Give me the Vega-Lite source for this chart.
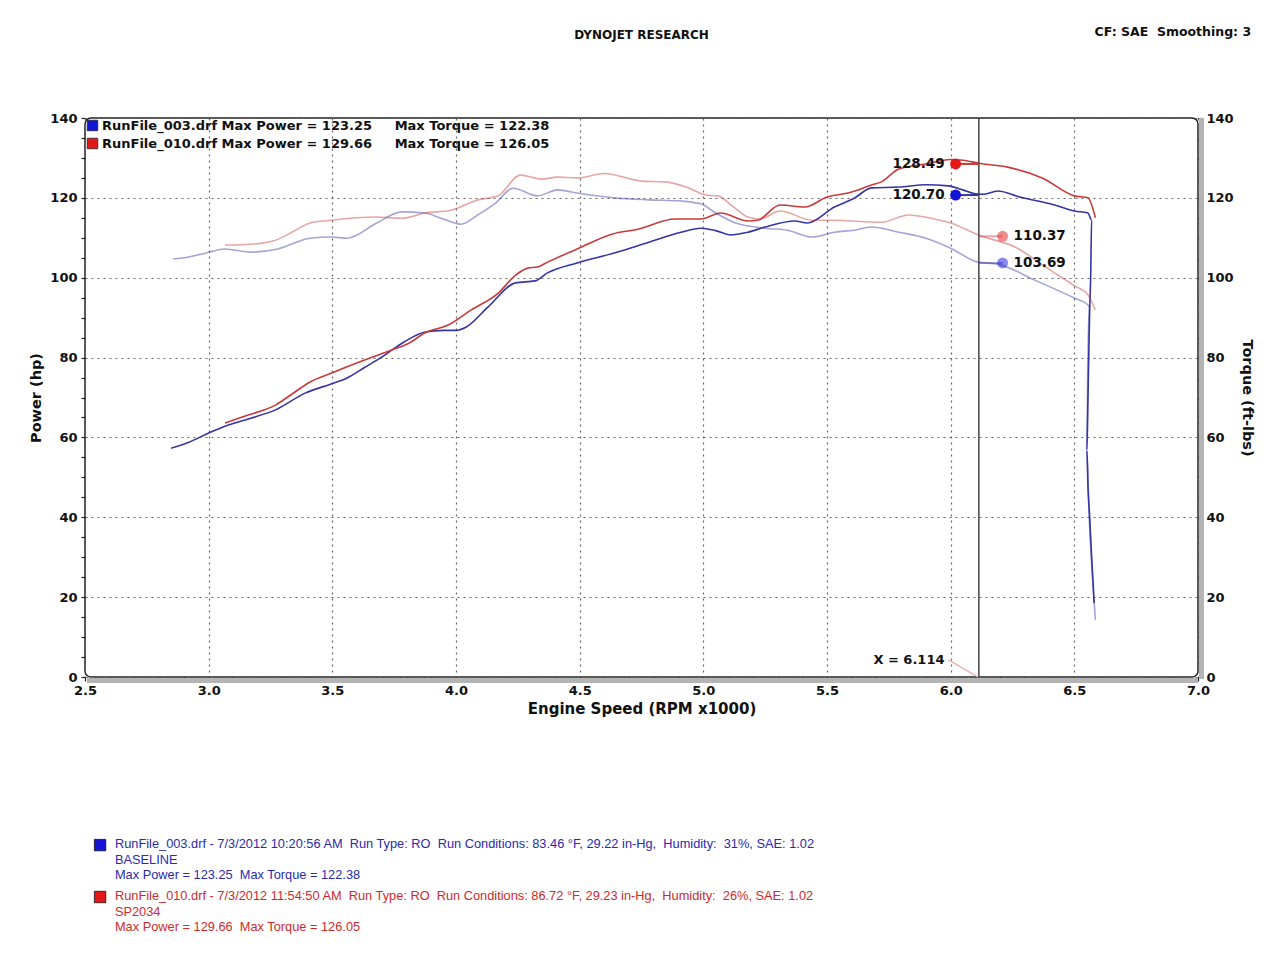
{
  "$schema": "https://vega.github.io/schema/vega-lite/v6.json",
  "background": "white",
  "padding": {"left": 28, "top": 26, "right": 10, "bottom": 10},
  "width": 1113,
  "height": 559,
  "config": {
    "view": {"stroke": "#222", "strokeWidth": 1.5, "cornerRadius": 6},
    "font": "DejaVu Sans"
  },
  "datasets": {
    "lines": [
      {"run":"RunFile_003.drf","m":"Power","rpm":2.848,"v":57.3},
      {"run":"RunFile_003.drf","m":"Power","rpm":2.92,"v":58.8},
      {"run":"RunFile_003.drf","m":"Power","rpm":3.0,"v":61.1},
      {"run":"RunFile_003.drf","m":"Power","rpm":3.08,"v":63.1},
      {"run":"RunFile_003.drf","m":"Power","rpm":3.17,"v":64.8},
      {"run":"RunFile_003.drf","m":"Power","rpm":3.27,"v":66.9},
      {"run":"RunFile_003.drf","m":"Power","rpm":3.39,"v":71.1},
      {"run":"RunFile_003.drf","m":"Power","rpm":3.495,"v":73.4},
      {"run":"RunFile_003.drf","m":"Power","rpm":3.56,"v":74.9},
      {"run":"RunFile_003.drf","m":"Power","rpm":3.63,"v":77.5},
      {"run":"RunFile_003.drf","m":"Power","rpm":3.7,"v":80.1},
      {"run":"RunFile_003.drf","m":"Power","rpm":3.79,"v":83.9},
      {"run":"RunFile_003.drf","m":"Power","rpm":3.875,"v":86.4},
      {"run":"RunFile_003.drf","m":"Power","rpm":3.95,"v":86.8},
      {"run":"RunFile_003.drf","m":"Power","rpm":4.0,"v":86.8},
      {"run":"RunFile_003.drf","m":"Power","rpm":4.04,"v":87.6},
      {"run":"RunFile_003.drf","m":"Power","rpm":4.13,"v":92.7},
      {"run":"RunFile_003.drf","m":"Power","rpm":4.24,"v":98.7},
      {"run":"RunFile_003.drf","m":"Power","rpm":4.32,"v":99.2},
      {"run":"RunFile_003.drf","m":"Power","rpm":4.37,"v":101.2},
      {"run":"RunFile_003.drf","m":"Power","rpm":4.49,"v":103.7},
      {"run":"RunFile_003.drf","m":"Power","rpm":4.64,"v":106.2},
      {"run":"RunFile_003.drf","m":"Power","rpm":4.78,"v":108.9},
      {"run":"RunFile_003.drf","m":"Power","rpm":4.91,"v":111.4},
      {"run":"RunFile_003.drf","m":"Power","rpm":4.99,"v":112.4},
      {"run":"RunFile_003.drf","m":"Power","rpm":5.05,"v":111.8},
      {"run":"RunFile_003.drf","m":"Power","rpm":5.11,"v":110.7},
      {"run":"RunFile_003.drf","m":"Power","rpm":5.18,"v":111.4},
      {"run":"RunFile_003.drf","m":"Power","rpm":5.25,"v":112.7},
      {"run":"RunFile_003.drf","m":"Power","rpm":5.37,"v":114.2},
      {"run":"RunFile_003.drf","m":"Power","rpm":5.42,"v":113.7},
      {"run":"RunFile_003.drf","m":"Power","rpm":5.53,"v":117.7},
      {"run":"RunFile_003.drf","m":"Power","rpm":5.61,"v":119.9},
      {"run":"RunFile_003.drf","m":"Power","rpm":5.68,"v":122.5},
      {"run":"RunFile_003.drf","m":"Power","rpm":5.79,"v":122.7},
      {"run":"RunFile_003.drf","m":"Power","rpm":5.9,"v":123.3},
      {"run":"RunFile_003.drf","m":"Power","rpm":5.99,"v":123.0},
      {"run":"RunFile_003.drf","m":"Power","rpm":6.05,"v":122.0},
      {"run":"RunFile_003.drf","m":"Power","rpm":6.1,"v":121.0},
      {"run":"RunFile_003.drf","m":"Power","rpm":6.13,"v":120.9},
      {"run":"RunFile_003.drf","m":"Power","rpm":6.19,"v":121.7},
      {"run":"RunFile_003.drf","m":"Power","rpm":6.28,"v":120.2},
      {"run":"RunFile_003.drf","m":"Power","rpm":6.42,"v":118.2},
      {"run":"RunFile_003.drf","m":"Power","rpm":6.5,"v":116.7},
      {"run":"RunFile_003.drf","m":"Power","rpm":6.555,"v":116.2},
      {"run":"RunFile_003.drf","m":"Power","rpm":6.57,"v":114.5},
      {"run":"RunFile_003.drf","m":"Power","rpm":6.566,"v":100.0},
      {"run":"RunFile_003.drf","m":"Power","rpm":6.562,"v":91.9},
      {"run":"RunFile_003.drf","m":"Power","rpm":6.555,"v":69.4},
      {"run":"RunFile_003.drf","m":"Power","rpm":6.551,"v":56.8},
      {"run":"RunFile_003.drf","m":"Power","rpm":6.555,"v":48.0},
      {"run":"RunFile_003.drf","m":"Power","rpm":6.562,"v":40.1},
      {"run":"RunFile_003.drf","m":"Power","rpm":6.57,"v":30.0},
      {"run":"RunFile_003.drf","m":"Power","rpm":6.575,"v":24.3},
      {"run":"RunFile_003.drf","m":"Power","rpm":6.58,"v":18.5},

      {"run":"RunFile_010.drf","m":"Power","rpm":3.066,"v":63.6},
      {"run":"RunFile_010.drf","m":"Power","rpm":3.16,"v":65.6},
      {"run":"RunFile_010.drf","m":"Power","rpm":3.27,"v":68.1},
      {"run":"RunFile_010.drf","m":"Power","rpm":3.34,"v":71.0},
      {"run":"RunFile_010.drf","m":"Power","rpm":3.41,"v":73.9},
      {"run":"RunFile_010.drf","m":"Power","rpm":3.495,"v":76.1},
      {"run":"RunFile_010.drf","m":"Power","rpm":3.63,"v":79.4},
      {"run":"RunFile_010.drf","m":"Power","rpm":3.74,"v":81.9},
      {"run":"RunFile_010.drf","m":"Power","rpm":3.81,"v":83.6},
      {"run":"RunFile_010.drf","m":"Power","rpm":3.875,"v":86.2},
      {"run":"RunFile_010.drf","m":"Power","rpm":3.97,"v":88.2},
      {"run":"RunFile_010.drf","m":"Power","rpm":4.06,"v":91.9},
      {"run":"RunFile_010.drf","m":"Power","rpm":4.17,"v":96.1},
      {"run":"RunFile_010.drf","m":"Power","rpm":4.24,"v":100.6},
      {"run":"RunFile_010.drf","m":"Power","rpm":4.29,"v":102.4},
      {"run":"RunFile_010.drf","m":"Power","rpm":4.33,"v":102.7},
      {"run":"RunFile_010.drf","m":"Power","rpm":4.37,"v":103.9},
      {"run":"RunFile_010.drf","m":"Power","rpm":4.49,"v":107.2},
      {"run":"RunFile_010.drf","m":"Power","rpm":4.63,"v":110.9},
      {"run":"RunFile_010.drf","m":"Power","rpm":4.74,"v":112.2},
      {"run":"RunFile_010.drf","m":"Power","rpm":4.885,"v":114.7},
      {"run":"RunFile_010.drf","m":"Power","rpm":4.99,"v":114.7},
      {"run":"RunFile_010.drf","m":"Power","rpm":5.07,"v":116.2},
      {"run":"RunFile_010.drf","m":"Power","rpm":5.18,"v":114.2},
      {"run":"RunFile_010.drf","m":"Power","rpm":5.22,"v":114.4},
      {"run":"RunFile_010.drf","m":"Power","rpm":5.31,"v":118.2},
      {"run":"RunFile_010.drf","m":"Power","rpm":5.41,"v":117.7},
      {"run":"RunFile_010.drf","m":"Power","rpm":5.5,"v":120.2},
      {"run":"RunFile_010.drf","m":"Power","rpm":5.585,"v":121.2},
      {"run":"RunFile_010.drf","m":"Power","rpm":5.68,"v":123.2},
      {"run":"RunFile_010.drf","m":"Power","rpm":5.72,"v":124.0},
      {"run":"RunFile_010.drf","m":"Power","rpm":5.79,"v":127.2},
      {"run":"RunFile_010.drf","m":"Power","rpm":5.9,"v":128.5},
      {"run":"RunFile_010.drf","m":"Power","rpm":6.0,"v":129.6},
      {"run":"RunFile_010.drf","m":"Power","rpm":6.05,"v":129.4},
      {"run":"RunFile_010.drf","m":"Power","rpm":6.12,"v":128.6},
      {"run":"RunFile_010.drf","m":"Power","rpm":6.23,"v":127.7},
      {"run":"RunFile_010.drf","m":"Power","rpm":6.37,"v":125.0},
      {"run":"RunFile_010.drf","m":"Power","rpm":6.5,"v":120.5},
      {"run":"RunFile_010.drf","m":"Power","rpm":6.555,"v":120.0},
      {"run":"RunFile_010.drf","m":"Power","rpm":6.585,"v":115.0},

      {"run":"RunFile_003.drf","m":"Torque","rpm":2.856,"v":104.7},
      {"run":"RunFile_003.drf","m":"Torque","rpm":2.92,"v":105.2},
      {"run":"RunFile_003.drf","m":"Torque","rpm":2.99,"v":106.2},
      {"run":"RunFile_003.drf","m":"Torque","rpm":3.066,"v":107.2},
      {"run":"RunFile_003.drf","m":"Torque","rpm":3.17,"v":106.4},
      {"run":"RunFile_003.drf","m":"Torque","rpm":3.28,"v":107.2},
      {"run":"RunFile_003.drf","m":"Torque","rpm":3.41,"v":109.9},
      {"run":"RunFile_003.drf","m":"Torque","rpm":3.495,"v":110.2},
      {"run":"RunFile_003.drf","m":"Torque","rpm":3.56,"v":109.9},
      {"run":"RunFile_003.drf","m":"Torque","rpm":3.68,"v":113.7},
      {"run":"RunFile_003.drf","m":"Torque","rpm":3.78,"v":116.5},
      {"run":"RunFile_003.drf","m":"Torque","rpm":3.875,"v":116.2},
      {"run":"RunFile_003.drf","m":"Torque","rpm":3.94,"v":114.9},
      {"run":"RunFile_003.drf","m":"Torque","rpm":4.02,"v":113.4},
      {"run":"RunFile_003.drf","m":"Torque","rpm":4.09,"v":115.8},
      {"run":"RunFile_003.drf","m":"Torque","rpm":4.16,"v":118.7},
      {"run":"RunFile_003.drf","m":"Torque","rpm":4.23,"v":122.4},
      {"run":"RunFile_003.drf","m":"Torque","rpm":4.33,"v":120.5},
      {"run":"RunFile_003.drf","m":"Torque","rpm":4.41,"v":122.0},
      {"run":"RunFile_003.drf","m":"Torque","rpm":4.49,"v":121.2},
      {"run":"RunFile_003.drf","m":"Torque","rpm":4.64,"v":120.0},
      {"run":"RunFile_003.drf","m":"Torque","rpm":4.78,"v":119.5},
      {"run":"RunFile_003.drf","m":"Torque","rpm":4.91,"v":119.2},
      {"run":"RunFile_003.drf","m":"Torque","rpm":4.99,"v":118.5},
      {"run":"RunFile_003.drf","m":"Torque","rpm":5.05,"v":116.2},
      {"run":"RunFile_003.drf","m":"Torque","rpm":5.13,"v":113.7},
      {"run":"RunFile_003.drf","m":"Torque","rpm":5.25,"v":112.4},
      {"run":"RunFile_003.drf","m":"Torque","rpm":5.34,"v":111.9},
      {"run":"RunFile_003.drf","m":"Torque","rpm":5.44,"v":110.2},
      {"run":"RunFile_003.drf","m":"Torque","rpm":5.53,"v":111.4},
      {"run":"RunFile_003.drf","m":"Torque","rpm":5.61,"v":111.9},
      {"run":"RunFile_003.drf","m":"Torque","rpm":5.68,"v":112.7},
      {"run":"RunFile_003.drf","m":"Torque","rpm":5.79,"v":111.4},
      {"run":"RunFile_003.drf","m":"Torque","rpm":5.9,"v":109.9},
      {"run":"RunFile_003.drf","m":"Torque","rpm":6.0,"v":107.4},
      {"run":"RunFile_003.drf","m":"Torque","rpm":6.11,"v":103.9},
      {"run":"RunFile_003.drf","m":"Torque","rpm":6.19,"v":103.4},
      {"run":"RunFile_003.drf","m":"Torque","rpm":6.34,"v":99.4},
      {"run":"RunFile_003.drf","m":"Torque","rpm":6.5,"v":94.9},
      {"run":"RunFile_003.drf","m":"Torque","rpm":6.555,"v":93.2},
      {"run":"RunFile_003.drf","m":"Torque","rpm":6.56,"v":92.7},
      {"run":"RunFile_003.drf","m":"Torque","rpm":6.555,"v":80.1},
      {"run":"RunFile_003.drf","m":"Torque","rpm":6.55,"v":56.8},
      {"run":"RunFile_003.drf","m":"Torque","rpm":6.56,"v":40.1},
      {"run":"RunFile_003.drf","m":"Torque","rpm":6.575,"v":23.5},
      {"run":"RunFile_003.drf","m":"Torque","rpm":6.585,"v":14.3},

      {"run":"RunFile_010.drf","m":"Torque","rpm":3.066,"v":108.2},
      {"run":"RunFile_010.drf","m":"Torque","rpm":3.17,"v":108.4},
      {"run":"RunFile_010.drf","m":"Torque","rpm":3.27,"v":109.4},
      {"run":"RunFile_010.drf","m":"Torque","rpm":3.34,"v":111.5},
      {"run":"RunFile_010.drf","m":"Torque","rpm":3.41,"v":113.7},
      {"run":"RunFile_010.drf","m":"Torque","rpm":3.495,"v":114.4},
      {"run":"RunFile_010.drf","m":"Torque","rpm":3.68,"v":115.2},
      {"run":"RunFile_010.drf","m":"Torque","rpm":3.78,"v":114.9},
      {"run":"RunFile_010.drf","m":"Torque","rpm":3.875,"v":116.2},
      {"run":"RunFile_010.drf","m":"Torque","rpm":3.98,"v":116.9},
      {"run":"RunFile_010.drf","m":"Torque","rpm":4.09,"v":119.5},
      {"run":"RunFile_010.drf","m":"Torque","rpm":4.17,"v":120.5},
      {"run":"RunFile_010.drf","m":"Torque","rpm":4.26,"v":125.7},
      {"run":"RunFile_010.drf","m":"Torque","rpm":4.345,"v":124.7},
      {"run":"RunFile_010.drf","m":"Torque","rpm":4.41,"v":125.2},
      {"run":"RunFile_010.drf","m":"Torque","rpm":4.49,"v":125.0},
      {"run":"RunFile_010.drf","m":"Torque","rpm":4.6,"v":126.1},
      {"run":"RunFile_010.drf","m":"Torque","rpm":4.75,"v":124.2},
      {"run":"RunFile_010.drf","m":"Torque","rpm":4.845,"v":124.0},
      {"run":"RunFile_010.drf","m":"Torque","rpm":4.94,"v":122.5},
      {"run":"RunFile_010.drf","m":"Torque","rpm":5.01,"v":120.7},
      {"run":"RunFile_010.drf","m":"Torque","rpm":5.06,"v":120.5},
      {"run":"RunFile_010.drf","m":"Torque","rpm":5.12,"v":117.8},
      {"run":"RunFile_010.drf","m":"Torque","rpm":5.18,"v":115.2},
      {"run":"RunFile_010.drf","m":"Torque","rpm":5.23,"v":114.7},
      {"run":"RunFile_010.drf","m":"Torque","rpm":5.31,"v":116.7},
      {"run":"RunFile_010.drf","m":"Torque","rpm":5.44,"v":114.4},
      {"run":"RunFile_010.drf","m":"Torque","rpm":5.52,"v":114.4},
      {"run":"RunFile_010.drf","m":"Torque","rpm":5.72,"v":113.9},
      {"run":"RunFile_010.drf","m":"Torque","rpm":5.83,"v":115.7},
      {"run":"RunFile_010.drf","m":"Torque","rpm":5.92,"v":114.9},
      {"run":"RunFile_010.drf","m":"Torque","rpm":6.0,"v":113.7},
      {"run":"RunFile_010.drf","m":"Torque","rpm":6.12,"v":110.5},
      {"run":"RunFile_010.drf","m":"Torque","rpm":6.26,"v":107.7},
      {"run":"RunFile_010.drf","m":"Torque","rpm":6.39,"v":102.4},
      {"run":"RunFile_010.drf","m":"Torque","rpm":6.5,"v":98.0},
      {"run":"RunFile_010.drf","m":"Torque","rpm":6.555,"v":95.7},
      {"run":"RunFile_010.drf","m":"Torque","rpm":6.585,"v":91.9}
    ],
    "cursor": [
      {"run":"RunFile_010.drf","file":"SP2034","m":"Power","rpm":6.02,"v":128.49,"label":"128.49","side":"L"},
      {"run":"RunFile_003.drf","file":"BASELINE","m":"Power","rpm":6.02,"v":120.70,"label":"120.70","side":"L"},
      {"run":"RunFile_010.drf","file":"SP2034","m":"Torque","rpm":6.21,"v":110.37,"label":"110.37","side":"R"},
      {"run":"RunFile_003.drf","file":"BASELINE","m":"Torque","rpm":6.21,"v":103.69,"label":"103.69","side":"R"}
    ]
  },
  "layer": [
    {
      "data": {"values": [{}]},
      "mark": {"type": "rule", "color": "#b4b4b4", "strokeWidth": 5, "yOffset": 3.5, "xOffset": 2},
      "encoding": {
        "x": {"datum": 2.5, "type": "quantitative"},
        "x2": {"datum": 7.0},
        "y": {"datum": 0, "type": "quantitative", "axis": null}
      }
    },
    {
      "data": {"values": [{}]},
      "mark": {"type": "rule", "color": "#b4b4b4", "strokeWidth": 5, "xOffset": 3.5, "yOffset": 2},
      "encoding": {
        "x": {"datum": 7.0, "type": "quantitative"},
        "y": {"datum": 0, "type": "quantitative", "axis": null},
        "y2": {"datum": 140}
      }
    },
    {
      "data": {"name": "lines"},
      "mark": {"type": "line", "strokeWidth": 1.6, "interpolate": "monotone"},
      "encoding": {
        "x": {"field": "rpm", "type": "quantitative", "scale": {"domain": [2.5, 7.0], "nice": false, "zero": false},
          "axis": {
            "title": "Engine Speed (RPM x1000)",
            "values": [2.5,2.6,2.7,2.8,2.9,3.0,3.1,3.2,3.3,3.4,3.5,3.6,3.7,3.8,3.9,4.0,4.1,4.2,4.3,4.4,4.5,4.6,4.7,4.8,4.9,5.0,5.1,5.2,5.3,5.4,5.5,5.6,5.7,5.8,5.9,6.0,6.1,6.2,6.3,6.4,6.5,6.6,6.7,6.8,6.9,7.0],
            "tickCount": 200,
            "labelExpr": "round(datum.value*10) % 5 == 0 ? format(datum.value,'.1f') : ''",
            "gridOpacity": {"condition": {"test": "round(datum.value*10) % 5 == 0", "value": 1}, "value": 0},
            "grid": true, "gridDash": [2, 4], "gridColor": "#666", "gridWidth": 1.2,
            "domain": false, "tickSize": 4, "tickColor": "#222", "tickWidth": 1.2,
            "labelPadding": 3, "labelFlush": false, "labelOverlap": false,
            "labelFont": "DejaVu Sans", "labelFontWeight": "bold", "labelFontSize": 13, "labelColor": "#111",
            "titleFont": "DejaVu Sans", "titleFontWeight": "bold", "titleFontSize": 15, "titleColor": "#111", "titlePadding": 4
          }},
        "y": {"field": "v", "type": "quantitative", "scale": {"domain": [0, 140], "nice": false},
          "axis": {
            "title": "Power (hp)", "orient": "left",
            "values": [0,5,10,15,20,25,30,35,40,45,50,55,60,65,70,75,80,85,90,95,100,105,110,115,120,125,130,135,140],
            "tickCount": 200,
            "labelExpr": "datum.value % 20 == 0 ? datum.value : ''",
            "gridOpacity": {"condition": {"test": "datum.value % 20 == 0", "value": 1}, "value": 0},
            "grid": true, "gridDash": [2, 4], "gridColor": "#666", "gridWidth": 1.2,
            "domain": false, "tickSize": 4, "tickColor": "#222", "tickWidth": 1.2,
            "labelPadding": 4, "labelOverlap": false, "labelFlush": false,
            "labelFont": "DejaVu Sans", "labelFontWeight": "bold", "labelFontSize": 13, "labelColor": "#111",
            "titleFont": "DejaVu Sans", "titleFontWeight": "bold", "titleFontSize": 14.5, "titleColor": "#111", "titlePadding": 6
          }},
        "stroke": {"field": "run", "type": "nominal", "scale": {"domain": ["RunFile_003.drf", "RunFile_010.drf"], "range": ["#3535a5", "#c83a3a"]}, "legend": null},
        "strokeOpacity": {"field": "m", "type": "nominal", "scale": {"domain": ["Power", "Torque"], "range": [1, 0.45]}, "legend": null},
        "order": {"value": null}
      }
    },
    {
      "data": {"values": [{}]},
      "mark": {"type": "rule", "color": "#444", "strokeWidth": 1.5},
      "encoding": {
        "x": {"datum": 6.114, "type": "quantitative"},
        "y": {"datum": 0, "type": "quantitative", "axis": null},
        "y2": {"datum": 140}
      }
    },
    {
      "data": {"name": "cursor"},
      "mark": {"type": "rule", "strokeWidth": 2},
      "encoding": {
        "x": {"field": "rpm", "type": "quantitative"},
        "x2": {"datum": 6.114},
        "y": {"field": "v", "type": "quantitative", "axis": null},
        "stroke": {"field": "run", "type": "nominal", "legend": null},
        "strokeOpacity": {"field": "m", "type": "nominal", "legend": null}
      }
    },
    {
      "data": {"name": "cursor"},
      "mark": {"type": "point", "filled": true, "shape": "circle", "size": 120, "strokeWidth": 0, "opacity": 1},
      "encoding": {
        "x": {"field": "rpm", "type": "quantitative"},
        "y": {"field": "v", "type": "quantitative",
          "axis": {
            "title": "Torque (ft-lbs)", "orient": "right",
            "values": [0,5,10,15,20,25,30,35,40,45,50,55,60,65,70,75,80,85,90,95,100,105,110,115,120,125,130,135,140],
            "tickCount": 200,
            "labelExpr": "datum.value % 20 == 0 ? datum.value : ''",
            "grid": false, "domain": false, "tickSize": 4, "tickColor": "#222", "tickWidth": 1.2,
            "labelPadding": 4, "labelOverlap": false, "labelFlush": false,
            "labelFont": "DejaVu Sans", "labelFontWeight": "bold", "labelFontSize": 13, "labelColor": "#111",
            "titleFont": "DejaVu Sans", "titleFontWeight": "bold", "titleFontSize": 14.5, "titleColor": "#111", "titlePadding": 6
          }},
        "fill": {"field": "file", "type": "nominal",
          "scale": {"domain": ["BASELINE", "SP2034"], "range": ["#1414d8", "#e41818"]},
          "legend": {
            "title": null, "orient": "top-left", "offset": 1, "padding": 0,
            "symbolType": "square", "symbolSize": 110, "symbolStrokeColor": "#222", "symbolStrokeWidth": 0.8, "symbolOpacity": 1,
            "labelFont": "DejaVu Sans", "labelFontWeight": "bold", "labelFontSize": 13, "labelColor": "#111",
            "labelOffset": 3, "rowPadding": 3, "labelLimit": 800,
            "labelExpr": "datum.label == 'BASELINE' ? 'RunFile_003.drf Max Power = 123.25\u00a0\u00a0\u00a0\u00a0\u00a0Max Torque = 122.38' : 'RunFile_010.drf Max Power = 129.66\u00a0\u00a0\u00a0\u00a0\u00a0Max Torque = 126.05'"
          }},
        "fillOpacity": {"field": "m", "type": "nominal", "scale": {"domain": ["Power", "Torque"], "range": [1, 0.5]}, "legend": null}
      }
    },
    {
      "data": {"name": "cursor"},
      "transform": [{"filter": "datum.side == 'L'"}],
      "mark": {"type": "text", "align": "right", "baseline": "middle", "dx": -11, "font": "DejaVu Sans", "fontWeight": "bold", "fontSize": 13.5, "color": "#111"},
      "encoding": {
        "x": {"field": "rpm", "type": "quantitative"},
        "y": {"field": "v", "type": "quantitative", "axis": null},
        "text": {"field": "label"}
      }
    },
    {
      "data": {"name": "cursor"},
      "transform": [{"filter": "datum.side == 'R'"}],
      "mark": {"type": "text", "align": "left", "baseline": "middle", "dx": 11, "font": "DejaVu Sans", "fontWeight": "bold", "fontSize": 13.5, "color": "#111"},
      "encoding": {
        "x": {"field": "rpm", "type": "quantitative"},
        "y": {"field": "v", "type": "quantitative", "axis": null},
        "text": {"field": "label"}
      }
    },
    {
      "data": {"values": [{}]},
      "mark": {"type": "rule", "color": "#f0a0a0", "strokeWidth": 1.2},
      "encoding": {
        "x": {"datum": 5.99, "type": "quantitative"},
        "x2": {"datum": 6.11},
        "y": {"datum": 4.3, "type": "quantitative", "axis": null},
        "y2": {"datum": 0}
      }
    },
    {
      "data": {"values": [{}]},
      "mark": {"type": "text", "text": "X = 6.114", "align": "right", "baseline": "middle", "font": "DejaVu Sans", "fontWeight": "bold", "fontSize": 13, "color": "#111"},
      "encoding": {
        "x": {"datum": 5.975, "type": "quantitative"},
        "y": {"datum": 4.3, "type": "quantitative", "axis": null}
      }
    },
    {
      "data": {"values": [{}]},
      "mark": {"type": "text", "text": "DYNOJET RESEARCH", "align": "center", "baseline": "middle", "font": "DejaVu Sans", "fontWeight": "bold", "fontSize": 12, "color": "#111"},
      "encoding": {
        "x": {"datum": 4.75, "type": "quantitative"},
        "y": {"datum": 160.8, "type": "quantitative", "axis": null}
      }
    },
    {
      "data": {"values": [{}]},
      "mark": {"type": "text", "text": "CF: SAE\u00a0 Smoothing: 3", "align": "right", "baseline": "middle", "font": "DejaVu Sans", "fontWeight": "bold", "fontSize": 12.5, "color": "#111"},
      "encoding": {
        "x": {"datum": 7.215, "type": "quantitative"},
        "y": {"datum": 161.5, "type": "quantitative", "axis": null}
      }
    },
    {
      "data": {"values": [{}]},
      "mark": {"type": "point", "shape": "square", "filled": true, "size": 130, "color": "#1414d8", "stroke": "#111", "strokeWidth": 0.8, "opacity": 1},
      "encoding": {
        "x": {"datum": 2.561, "type": "quantitative"},
        "y": {"datum": -42.1, "type": "quantitative", "axis": null}
      }
    },
    {
      "data": {"values": [{}]},
      "mark": {"type": "point", "shape": "square", "filled": true, "size": 130, "color": "#e41818", "stroke": "#111", "strokeWidth": 0.8, "opacity": 1},
      "encoding": {
        "x": {"datum": 2.561, "type": "quantitative"},
        "y": {"datum": -55.1, "type": "quantitative", "axis": null}
      }
    },
    {
      "data": {"values": [{}]},
      "mark": {"type": "text", "align": "left", "baseline": "top", "lineHeight": 15.5, "font": "Liberation Sans", "fontSize": 12.8, "color": "#2a2ab0",
        "text": ["RunFile_003.drf - 7/3/2012 10:20:56 AM \u00a0Run Type: RO \u00a0Run Conditions: 83.46 \u00b0F, 29.22 in-Hg, \u00a0Humidity: \u00a031%, SAE: 1.02", "BASELINE", "Max Power = 123.25 \u00a0Max Torque = 122.38"]},
      "encoding": {
        "x": {"datum": 2.621, "type": "quantitative"},
        "y": {"datum": -40.4, "type": "quantitative", "axis": null}
      }
    },
    {
      "data": {"values": [{}]},
      "mark": {"type": "text", "align": "left", "baseline": "top", "lineHeight": 15.5, "font": "Liberation Sans", "fontSize": 12.8, "color": "#d02a2a",
        "text": ["RunFile_010.drf - 7/3/2012 11:54:50 AM \u00a0Run Type: RO \u00a0Run Conditions: 86.72 \u00b0F, 29.23 in-Hg, \u00a0Humidity: \u00a026%, SAE: 1.02", "SP2034", "Max Power = 129.66 \u00a0Max Torque = 126.05"]},
      "encoding": {
        "x": {"datum": 2.621, "type": "quantitative"},
        "y": {"datum": -53.4, "type": "quantitative", "axis": null}
      }
    }
  ],
  "resolve": {"axis": {"y": "independent"}}
}
